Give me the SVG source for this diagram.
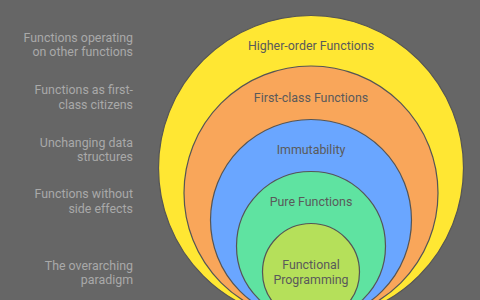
<svg xmlns="http://www.w3.org/2000/svg" width="480" height="300" viewBox="0 0 480 300">
  <style>
    .ring { stroke: #555555; stroke-width: 1.2; }
    .lbl { font-family: Roboto, "Liberation Sans", sans-serif; font-size: 12.4px; fill: #5a5a5a; text-anchor: middle; }
    .side { font-family: Roboto, "Liberation Sans", sans-serif; font-size: 12.4px; fill: #a9a9a9; text-anchor: end; }
  </style>
  <rect x="0" y="0" width="480" height="300" fill="#666666"/>
  <g id="higher-order">
    <circle class="ring" cx="311" cy="168" r="152.5" fill="#ffe733"/>
    <text class="lbl" x="311" y="50">Higher-order Functions</text>
  </g>
  <g id="first-class">
    <circle class="ring" cx="311" cy="193" r="127" fill="#f9a65a"/>
    <text class="lbl" x="311" y="102">First-class Functions</text>
  </g>
  <g id="immutability">
    <circle class="ring" cx="311" cy="220" r="100.5" fill="#6aa6ff"/>
    <text class="lbl" x="311" y="154">Immutability</text>
  </g>
  <g id="pure-functions">
    <circle class="ring" cx="311" cy="246" r="74.5" fill="#5fe3a1"/>
    <text class="lbl" x="311" y="206">Pure Functions</text>
  </g>
  <g id="functional-programming">
    <circle class="ring" cx="311" cy="272" r="48.5" fill="#b5e05a"/>
    <text class="lbl" x="311" y="269">Functional</text>
    <text class="lbl" x="311" y="284">Programming</text>
  </g>
  <g id="connectors"></g>
  <g id="descriptions">
    <text class="side" x="133" y="42">Functions operating</text>
    <text class="side" x="133" y="56">on other functions</text>
    <text class="side" x="133" y="94">Functions as first-</text>
    <text class="side" x="133" y="109">class citizens</text>
    <text class="side" x="133" y="147">Unchanging data</text>
    <text class="side" x="133" y="161">structures</text>
    <text class="side" x="133" y="198">Functions without</text>
    <text class="side" x="133" y="213">side effects</text>
    <text class="side" x="133" y="270">The overarching</text>
    <text class="side" x="133" y="284">paradigm</text>
  </g>
</svg>
